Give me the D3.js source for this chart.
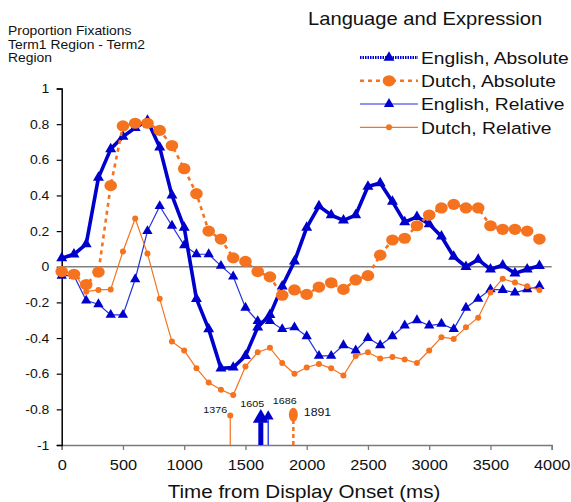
<!DOCTYPE html>
<html><head><meta charset="utf-8">
<script src="https://cdn.jsdelivr.net/npm/d3@7"></script>
<style>body{margin:0;background:#fff} text{font-family:"Liberation Sans",Arial,sans-serif}</style>
</head><body><svg id="c" width="571" height="502"></svg>
<script>
// ---------- data ----------
const times = [0,100,200,300,400,500,600,700,800,900,1000,1100,1200,1300,1400,1500,1600,1700,1800,1900,
               2000,2100,2200,2300,2400,2500,2600,2700,2800,2900,3000,3100,3200,3300,3400,3500,3600,3700,3800,3900];
const englishAbsolute = [0.048,0.07,0.127,0.50,0.66,0.73,0.78,0.82,0.67,0.40,0.22,-0.18,-0.35,-0.57,-0.565,-0.50,-0.34,-0.27,-0.11,0.03,
               0.22,0.34,0.29,0.26,0.29,0.45,0.47,0.365,0.25,0.28,0.24,0.17,0.057,0.0,0.04,-0.014,0.008,-0.037,-0.014,0.005];
const dutchAbsolute = [-0.027,-0.042,-0.10,-0.03,0.455,0.79,0.805,0.805,0.765,0.68,0.55,0.41,0.20,0.155,0.05,0.03,-0.027,-0.057,-0.16,-0.13,
               -0.155,-0.114,-0.09,-0.127,-0.074,-0.05,0.065,0.15,0.16,0.23,0.29,0.33,0.35,0.33,0.33,0.23,0.21,0.21,0.20,0.155];
const englishRelative = [-0.05,-0.05,-0.19,-0.21,-0.27,-0.27,-0.07,0.20,0.34,0.23,0.12,0.07,0.07,0.005,-0.055,-0.23,-0.305,-0.305,-0.35,-0.34,
               -0.39,-0.50,-0.50,-0.44,-0.47,-0.40,-0.44,-0.39,-0.33,-0.30,-0.33,-0.32,-0.35,-0.23,-0.18,-0.127,-0.13,-0.145,-0.127,-0.108];
const dutchRelative = [-0.03,-0.033,-0.14,-0.13,-0.127,0.086,0.27,0.074,-0.18,-0.42,-0.47,-0.57,-0.65,-0.69,-0.72,-0.56,-0.48,-0.455,-0.54,-0.60,
               -0.565,-0.545,-0.57,-0.61,-0.50,-0.48,-0.515,-0.506,-0.52,-0.54,-0.47,-0.395,-0.405,-0.34,-0.286,-0.145,-0.067,-0.089,-0.11,-0.13];
const xTicks = [0,500,1000,1500,2000,2500,3000,3500,4000];
const yTicks = [-1,-0.8,-0.6,-0.4,-0.2,0,0.2,0.4,0.6,0.8,1];
const seriesNames = ["English, Absolute","Dutch, Absolute","English, Relative","Dutch, Relative"];
const markerTimes = [1376,1605,1686,1891];
const markerLevels = [-0.835,-0.85,-0.84,-0.83];
const markerLabels = ["1376","1605","1686","1891"];
const yTitleLines = ["Proportion Fixations","Term1 Region - Term2","Region"];
const chartTitle = "Language and Expression";
const xTitle = "Time from Display Onset (ms)";

// ---------- setup ----------
const BLUE = "#0000CC", ORANGE = "#F5731E", SX = 1.12;
const svg = d3.select("#c");
const x = d3.scaleLinear().domain([0,4000]).range([61.7,551.7]);
const y = d3.scaleLinear().domain([-1,1]).range([445,88.5]);

function txt(sel, px, py, s, size, anchor, fill) {
  return sel.append("text")
    .attr("transform", `translate(${px},${py}) scale(${SX},1)`)
    .attr("font-size", size).attr("text-anchor", anchor || "start")
    .attr("fill", fill || "#000").text(s);
}
const tri = (s) => d3.symbol().type(d3.symbolTriangle).size(s)();

// ---------- axes ----------
const xAxis = svg.append("g").attr("transform", `translate(0,${y(-1)})`)
  .call(d3.axisBottom(x).tickValues(xTicks).tickSize(5).tickPadding(10).tickFormat(d3.format("d")));
xAxis.select(".domain").attr("stroke", "#7a7a7a").attr("stroke-width", 1.5);
xAxis.selectAll(".tick line").attr("stroke", "#7a7a7a").attr("stroke-width", 1.3);
xAxis.selectAll(".tick text").attr("font-size", 14.6).attr("fill", "#111")
  .attr("font-family", '"Liberation Sans",Arial,sans-serif').attr("transform", `scale(${SX},1)`);

const yAxis = svg.append("g").attr("transform", `translate(${x(0)},0)`)
  .call(d3.axisLeft(y).tickValues(yTicks).tickSize(5).tickPadding(6).tickFormat(d => String(+d.toFixed(1))));
yAxis.select(".domain").attr("stroke", "#000").attr("stroke-width", 1.5);
yAxis.selectAll(".tick line").attr("stroke", "#000").attr("stroke-width", 1.2);
yAxis.selectAll(".tick text").attr("font-size", 12.5).attr("fill", "#111")
  .attr("font-family", '"Liberation Sans",Arial,sans-serif').attr("transform", `scale(${SX},1)`);

// zero line
svg.append("line").attr("x1", x(0)).attr("x2", x(4000)).attr("y1", y(0)).attr("y2", y(0))
  .attr("stroke", "#808080").attr("stroke-width", 1.5);

// ---------- series ----------
const line = d3.line().x((d, i) => x(times[i])).y(d => y(d));
const plot = svg.append("g");

// English relative (thin blue, triangles)
plot.append("path").attr("d", line(englishRelative)).attr("fill", "none").attr("stroke", "#2233DD").attr("stroke-width", 1.2);
plot.selectAll(".er").data(englishRelative).join("path").attr("class", "er")
  .attr("d", tri(46)).attr("transform", (d, i) => `translate(${x(times[i])},${y(d)})`).attr("fill", BLUE);

// Dutch relative (thin orange, small dots)
plot.append("path").attr("d", line(dutchRelative)).attr("fill", "none").attr("stroke", ORANGE).attr("stroke-width", 1.2);
plot.selectAll(".dr").data(dutchRelative).join("circle").attr("class", "dr")
  .attr("cx", (d, i) => x(times[i])).attr("cy", d => y(d)).attr("r", 3).attr("fill", ORANGE);

// English absolute (thick blue, triangles)
plot.append("path").attr("d", line(englishAbsolute)).attr("fill", "none").attr("stroke", BLUE).attr("stroke-width", 3.6).attr("stroke-linejoin", "round");
plot.selectAll(".ea").data(englishAbsolute).join("path").attr("class", "ea")
  .attr("d", tri(52)).attr("transform", (d, i) => `translate(${x(times[i])},${y(d)})`).attr("fill", BLUE);

// Dutch absolute (dashed orange, big circles)
plot.append("path").attr("d", line(dutchAbsolute)).attr("fill", "none").attr("stroke", ORANGE).attr("stroke-width", 2.6).attr("stroke-dasharray", "4,4");
plot.selectAll(".da").data(dutchAbsolute).join("ellipse").attr("class", "da")
  .attr("cx", (d, i) => x(times[i])).attr("cy", d => y(d)).attr("rx", 6.3).attr("ry", 5.6).attr("fill", ORANGE);

// ---------- crossover markers ----------
const mk = svg.append("g");
// 1376 Dutch relative
mk.append("line").attr("x1", x(markerTimes[0])).attr("x2", x(markerTimes[0])).attr("y1", y(-1)).attr("y2", y(markerLevels[0]))
  .attr("stroke", ORANGE).attr("stroke-width", 1.2);
mk.append("circle").attr("cx", x(markerTimes[0])).attr("cy", y(markerLevels[0])).attr("r", 3).attr("fill", ORANGE);
// 1605 English absolute
mk.append("rect").attr("x", x(markerTimes[1])).attr("width", 5).attr("y", y(markerLevels[1]) + 4).attr("height", y(-1) - y(markerLevels[1]) - 4)
  .attr("fill", BLUE);
mk.append("path").attr("d", tri(110)).attr("transform", `translate(${x(markerTimes[1]) + 2.5},${y(markerLevels[1])})`).attr("fill", BLUE);
// 1686 English relative
mk.append("line").attr("x1", x(markerTimes[2])).attr("x2", x(markerTimes[2])).attr("y1", y(-1)).attr("y2", y(markerLevels[2]))
  .attr("stroke", "#3344EE").attr("stroke-width", 1.5);
mk.append("path").attr("d", tri(50)).attr("transform", `translate(${x(markerTimes[2])},${y(markerLevels[2])})`).attr("fill", BLUE);
// 1891 Dutch absolute
mk.append("line").attr("x1", x(markerTimes[3])).attr("x2", x(markerTimes[3])).attr("y1", y(-1)).attr("y2", y(markerLevels[3]))
  .attr("stroke", ORANGE).attr("stroke-width", 2.5).attr("stroke-dasharray", "4,3");
mk.append("ellipse").attr("cx", x(markerTimes[3])).attr("cy", y(markerLevels[3])).attr("rx", 4.5).attr("ry", 7).attr("fill", ORANGE);

txt(mk, x(markerTimes[0]) - 15, y(markerLevels[0]) - 3, markerLabels[0], 9.6, "middle", "#111");
txt(mk, x(markerTimes[1]) - 6, y(markerLevels[1]) - 11, markerLabels[1], 9.6, "middle", "#111");
txt(mk, x(markerTimes[2]) + 16.5, y(markerLevels[2]) - 12.5, markerLabels[2], 9.6, "middle", "#111");
txt(mk, x(markerTimes[3]) + 10.5, y(markerLevels[3]) + 1.5, markerLabels[3], 11, "start", "#111");

// ---------- texts ----------
yTitleLines.forEach((s, i) => txt(svg, 8, 35 + i * 13.7, s, 12.4, "start", "#111"));
txt(svg, 308, 24.5, chartTitle, 18, "start", "#111");
txt(svg, 304, 498, xTitle, 18.4, "middle", "#111");

// ---------- legend ----------
const legY = [57.5, 80.8, 104, 127.3];
const lg = svg.append("g");
const lx1 = 360, lx2 = 418, lxm = 389;
// English absolute
lg.append("line").attr("x1", lx1).attr("x2", lx2).attr("y1", legY[0]).attr("y2", legY[0])
  .attr("stroke", BLUE).attr("stroke-width", 3).attr("stroke-dasharray", "1.5,1");
lg.append("path").attr("d", tri(52)).attr("transform", `translate(${lxm},${legY[0]})`).attr("fill", BLUE);
// Dutch absolute
lg.append("line").attr("x1", lx1).attr("x2", lx2).attr("y1", legY[1]).attr("y2", legY[1])
  .attr("stroke", ORANGE).attr("stroke-width", 2.6).attr("stroke-dasharray", "4,4");
lg.append("ellipse").attr("cx", lxm).attr("cy", legY[1]).attr("rx", 6.3).attr("ry", 5.6).attr("fill", ORANGE);
// English relative
lg.append("line").attr("x1", lx1).attr("x2", lx2).attr("y1", legY[2]).attr("y2", legY[2])
  .attr("stroke", "#2233DD").attr("stroke-width", 1.2);
lg.append("path").attr("d", tri(46)).attr("transform", `translate(${lxm},${legY[2]})`).attr("fill", BLUE);
// Dutch relative
lg.append("line").attr("x1", lx1).attr("x2", lx2).attr("y1", legY[3]).attr("y2", legY[3])
  .attr("stroke", ORANGE).attr("stroke-width", 1.2);
lg.append("circle").attr("cx", lxm).attr("cy", legY[3]).attr("r", 3).attr("fill", ORANGE);
seriesNames.forEach((s, i) => txt(lg, 421, legY[i] + 6.2, s, 17.2, "start", "#111"));
</script></body></html>
